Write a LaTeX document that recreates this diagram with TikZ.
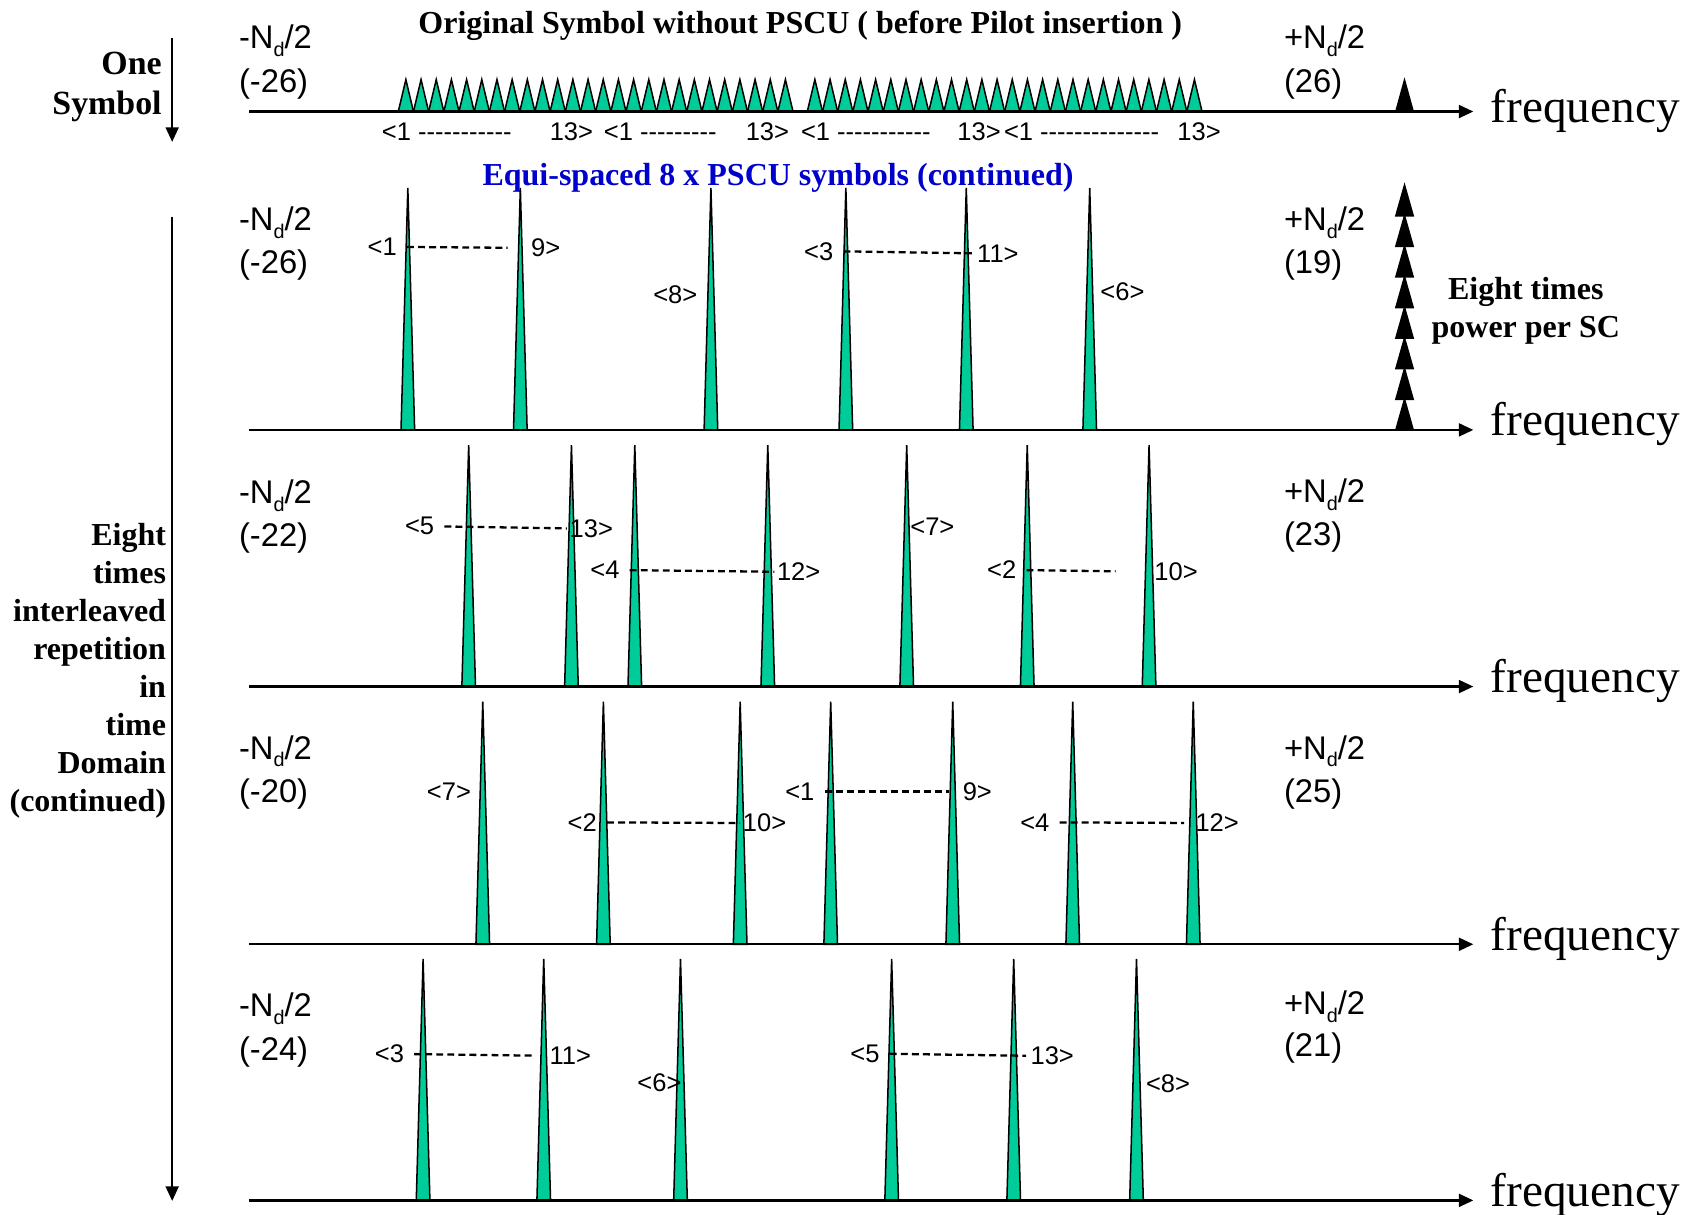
\documentclass[tikz,border=0pt]{standalone}
\usepackage{fontspec}
\setmainfont{Liberation Serif}
\newfontfamily\arialfont[Ligatures=TeXOff]{Liberation Sans}
\usetikzlibrary{arrows.meta}
\definecolor{spikegreen}{RGB}{0,204,153}
\definecolor{titleblue}{RGB}{0,0,204}
\newcommand{\subd}{\raisebox{-0.45ex}{\fontsize{5.2}{6}\selectfont d}}

\begin{document}
\begin{tikzpicture}[x=0.01cm,y=-0.01cm,
  faxis/.style={line width=0.6pt,-{Triangle[length=3.8pt,width=3.4pt]},shorten >=4.4pt},
  tline/.style={line width=0.5pt,-{Triangle[length=3.8pt,width=3.4pt]}},
  spike/.style={draw=black,line width=0.4pt,fill=spikegreen},
  powertri/.style={draw=black,line width=0.4pt,fill=black},
  ndlabel/.style={inner sep=0pt,anchor=base west,font=\arialfont\fontsize{8.6}{10}\selectfont},
  sclabel/.style={inner sep=0pt,font=\arialfont\fontsize{6.7}{8}\selectfont},
  dashjoin/.style={line width=0.6pt,dash pattern=on 1.8pt off 1.1pt,shorten <=2.5pt},
  freq/.style={inner sep=0pt,anchor=base west,font=\fontsize{12.4}{14}\selectfont},
  btext/.style={inner sep=0pt,font=\bfseries\fontsize{8.4}{10}\selectfont}]
\useasboundingbox (0,0) rectangle (1568,1122);

% titles and side texts
\node[btext,anchor=base] (ttl) at (739,30.5) {Original Symbol without PSCU ( before Pilot insertion )};
\node[btext,anchor=base,text=titleblue] (sub) at (718.5,171) {Equi-spaced 8 x PSCU symbols (continued)};
\node[inner sep=0pt,align=right,anchor=east,font=\bfseries\fontsize{8.9}{10.5}\selectfont] (one) at (150,80) {One\\Symbol};
\node[btext,align=right,anchor=east] (rep) at (154,619.5) {Eight\\times\\interleaved\\repetition\\in\\time\\Domain\\(continued)};
\node[btext,align=center] (pwr) at (1409,287) {Eight times\\power per SC};
\coordinate (t0) at (159,35);
\coordinate (t1) at (159,131);
\draw[tline] (t0) -- (t1);
\coordinate (t2) at (159,200);
\coordinate (t3) at (159,1109);
\draw[tline] (t2) -- (t3);

% row 1: original symbol
\foreach \i in {0,...,25} {
  \draw[spike] (367.8+14.02*\i,103) -- (374.8+14.02*\i,73.5) -- (381.8+14.02*\i,103) -- cycle;
  \draw[spike] (745.5+14.02*\i,103) -- (752.5+14.02*\i,73.5) -- (759.5+14.02*\i,103) -- cycle;
}
\draw[powertri] (1289,103) -- (1297,74) -- (1305,103) -- cycle;
\node[ndlabel] (nl1a) at (220,45) {-N\subd/2};
\node[ndlabel] (nl1b) at (220,85) {(-26)};
\node[ndlabel] (nr1a) at (1185,45) {+N\subd/2};
\node[ndlabel] (nr1b) at (1185,85) {(26)};
\node[sclabel,anchor=west] (g1a) at (352,121.6) {<1 -----------};
\node[sclabel,anchor=west] (g1b) at (507,121.6) {13>};
\node[sclabel,anchor=west] (g2a) at (557,121.6) {<1 ---------};
\node[sclabel,anchor=west] (g2b) at (688,121.6) {13>};
\node[sclabel,anchor=west] (g3a) at (739,121.6) {<1 -----------};
\node[sclabel,anchor=west] (g3b) at (883.4,121.6) {13>};
\node[sclabel,anchor=west] (g4a) at (926.5,121.6) {<1 --------------};
\node[sclabel,anchor=west] (g4b) at (1086.6,121.6) {13>};
\coordinate (a1) at (230,103);
\node[freq] (fq1) at (1376,113.5) {frequency};
\draw[faxis] (a1) -- (a1 -| fq1.west);

% row 2
\foreach \x in {376.6,480.5,656.5,781.1,892.3,1006.3}
  \draw[spike] (\x-6.3,397) -- (\x,173.5) -- (\x+6.3,397) -- cycle;
\foreach \k in {0,...,7}
  \draw[powertri] (1289,397-28.25*\k) -- (1297,368.75-28.25*\k) -- (1305,397-28.25*\k) -- cycle;
\node[ndlabel] (nl2a) at (220,213) {-N\subd/2};
\node[ndlabel] (nl2b) at (220,253) {(-26)};
\node[ndlabel] (nr2a) at (1185,213) {+N\subd/2};
\node[ndlabel] (nr2b) at (1185,253) {(19)};
\node[sclabel] (s21) at (353,228) {<1};
\node[sclabel] (s29) at (504,229) {9>};
\node[sclabel] (s28) at (623.6,272) {<8>};
\node[sclabel] (s23) at (756,232) {<3};
\node[sclabel] (s211) at (921.5,234) {11>};
\node[sclabel] (s26) at (1036.5,269) {<6>};
\draw[dashjoin,shorten >=6pt] (s21.east) -- (s29.west);
\draw[dashjoin,shorten >=1pt] (s23.east) -- (s211.west);
\coordinate (a2) at (230,397);
\node[freq] (fq2) at (1376,402.5) {frequency};
\draw[faxis] (a2) -- (a2 -| fq2.west);

% row 3
\foreach \x in {432.8,527.7,586.2,709,837.3,948.6,1061.1}
  \draw[spike] (\x-6.3,634) -- (\x,411) -- (\x+6.3,634) -- cycle;
\node[ndlabel] (nl3a) at (220,465) {-N\subd/2};
\node[ndlabel] (nl3b) at (220,505) {(-22)};
\node[ndlabel] (nr3a) at (1185,464) {+N\subd/2};
\node[ndlabel] (nr3b) at (1185,504) {(23)};
\node[sclabel] (s35) at (387.5,486) {<5};
\node[sclabel] (s313) at (546,488) {13>};
\node[sclabel] (s34) at (558.6,526.4) {<4};
\node[sclabel] (s312) at (737.5,528) {12>};
\node[sclabel] (s37) at (861,486) {<7>};
\node[sclabel] (s32) at (925,526.4) {<2};
\node[sclabel] (s310) at (1086,528) {10>};
\draw[dashjoin,shorten >=0.5pt] (s35.east) -- (s313.west);
\draw[dashjoin,shorten >=0.5pt] (s34.east) -- (s312.west);
\draw[dashjoin,shorten >=10pt] (s32.east) -- (s310.west);
\coordinate (a3) at (230,634);
\node[freq] (fq3) at (1376,639.5) {frequency};
\draw[faxis] (a3) -- (a3 -| fq3.west);

% row 4
\foreach \x in {445.8,557.2,683.5,767.1,879.8,990.6,1101.9}
  \draw[spike] (\x-6.3,872) -- (\x,648) -- (\x+6.3,872) -- cycle;
\node[ndlabel] (nl4a) at (220,701) {-N\subd/2};
\node[ndlabel] (nl4b) at (220,741) {(-20)};
\node[ndlabel] (nr4a) at (1185,701) {+N\subd/2};
\node[ndlabel] (nr4b) at (1185,741) {(25)};
\node[sclabel] (s47) at (414.6,731) {<7>};
\node[sclabel] (s42) at (537.7,759.4) {<2};
\node[sclabel] (s410) at (706,760) {10>};
\node[sclabel] (s41) at (738.6,731) {<1};
\node[sclabel] (s49) at (902.5,731) {9>};
\node[sclabel] (s44) at (955.6,759.4) {<4};
\node[sclabel] (s412) at (1124,760) {12>};
\draw[dashjoin,shorten >=0.5pt] (s42.east) -- (s410.west);
\draw[dashjoin,shorten >=3.4pt] (s41.east) -- (s49.west);
\draw[dashjoin,shorten >=2.8pt] (s44.east) -- (s412.west);
\coordinate (a4) at (230,872);
\node[freq] (fq4) at (1376,877.5) {frequency};
\draw[faxis] (a4) -- (a4 -| fq4.west);

% row 5
\foreach \x in {390.7,502.1,628.4,823.4,936.1,1049.5}
  \draw[spike] (\x-6.3,1108.5) -- (\x,885.6) -- (\x+6.3,1108.5) -- cycle;
\node[ndlabel] (nl5a) at (220,939) {-N\subd/2};
\node[ndlabel] (nl5b) at (220,979) {(-24)};
\node[ndlabel] (nr5a) at (1185,937) {+N\subd/2};
\node[ndlabel] (nr5b) at (1185,976) {(21)};
\node[sclabel] (s53) at (359.6,973.3) {<3};
\node[sclabel] (s511) at (526.7,975) {11>};
\node[sclabel] (s56) at (609,1000) {<6>};
\node[sclabel] (s55) at (798.8,973) {<5};
\node[sclabel] (s513) at (971.7,975) {13>};
\node[sclabel] (s58) at (1078.6,1001) {<8>};
\draw[dashjoin,shorten >=3.7pt] (s53.east) -- (s511.west);
\draw[dashjoin,shorten >=1pt] (s55.east) -- (s513.west);
\coordinate (a5) at (230,1108.5);
\node[freq] (fq5) at (1376,1114) {frequency};
\draw[faxis] (a5) -- (a5 -| fq5.west);

\end{tikzpicture}
\end{document}
